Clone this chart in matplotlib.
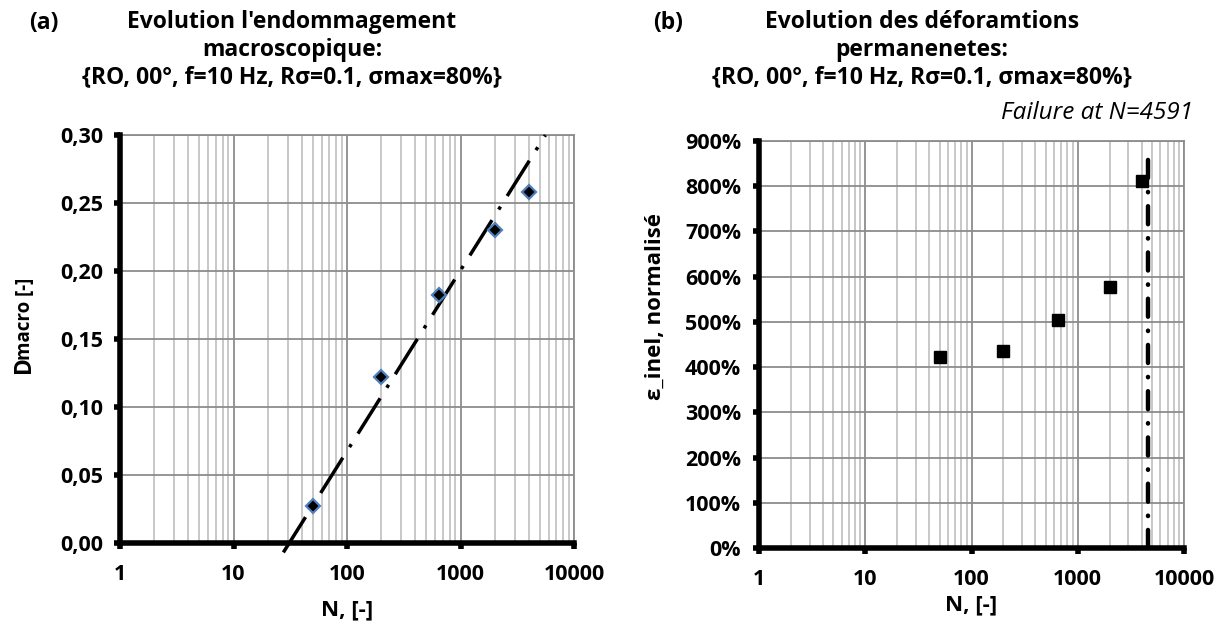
import numpy as np
import matplotlib.pyplot as plt
from matplotlib.ticker import FixedLocator, FuncFormatter, LogLocator, NullFormatter

plt.rcParams['font.family'] = ['Open Sans', 'DejaVu Sans']
plt.rcParams['lines.scale_dashes'] = False

# ---- donnees ----
cycles = [50, 200, 650, 2000, 4000]
d_macro = [0.027, 0.122, 0.182, 0.230, 0.258]

# tendance logarithmique: D = a*log10(N) + b
trend_a = 0.1329
trend_b = -0.1982
trend_N = [27.5, 5600]

eps_inel = [4.22, 4.36, 5.05, 5.78, 8.12]
n_failure = 4591
failure_top = 8.85

x_ticks = [1, 10, 100, 1000, 10000]
d_ticks = [0.00, 0.05, 0.10, 0.15, 0.20, 0.25, 0.30]
eps_ticks = [0, 1, 2, 3, 4, 5, 6, 7, 8, 9]

W, H = 1226, 626
fig = plt.figure(figsize=(W / 100, H / 100), dpi=100)

major_col = '#8c8c8c'
minor_col = '#c4c4c4'
tick_fs = 15.5


def habiller(ax):
    ax.set_xscale('log')
    ax.set_xlim(1, 10000)
    ax.xaxis.set_major_locator(FixedLocator(x_ticks))
    ax.xaxis.set_major_formatter(FuncFormatter(lambda v, p: '%d' % v))
    ax.xaxis.set_minor_locator(LogLocator(base=10, subs=np.arange(2, 10)))
    ax.xaxis.set_minor_formatter(NullFormatter())
    ax.grid(True, which='major', color=major_col, lw=1.3, zorder=0)
    ax.grid(True, which='minor', axis='x', color=minor_col, lw=1.3, zorder=0)
    ax.set_axisbelow(True)
    for s in ['left', 'bottom']:
        ax.spines[s].set_linewidth(4)
        ax.spines[s].set_color('black')
        ax.spines[s].set_zorder(5)
    for s in ['top', 'right']:
        ax.spines[s].set_linewidth(1.3)
        ax.spines[s].set_color(major_col)
    ax.tick_params(which='major', direction='out', length=4, width=4,
                   color='black', labelsize=tick_fs, pad=11)
    ax.tick_params(which='minor', length=0)


def gras(ax):
    for lab in ax.get_xticklabels() + ax.get_yticklabels():
        lab.set_fontweight('bold')


# ---- (a) ----
ax1 = fig.add_axes([120 / W, 1 - 543 / H, 454 / W, 408 / H])
habiller(ax1)
ax1.yaxis.set_major_locator(FixedLocator(d_ticks))
ax1.yaxis.set_major_formatter(FuncFormatter(lambda v, p: ('%.2f' % v).replace('.', ',')))
ax1.tick_params(axis='y', pad=8)

tn = np.array(trend_N)
ax1.plot(tn, trend_a * np.log10(tn) + trend_b, color='black', lw=2.5,
         dashes=(30, 9, 2.5, 9), dash_capstyle='butt', clip_on=False, zorder=3)
ax1.plot(cycles, d_macro, 'D', ms=7, mfc='black', mec='#4f81bd', mew=1.6, zorder=4)
ax1.set_ylim(0, 0.30)
gras(ax1)

ax1.set_xlabel('N, [-]', fontsize=16, fontweight='bold', va='center')
ax1.xaxis.set_label_coords(0.5, -(610 - 543) / 408)

# label "Dmacro [-]" : D en grand, macro plus petit sur la meme ligne de base
t_d = fig.text(30 / W, 1 - 373 / H, 'D', rotation=90, rotation_mode='anchor',
               ha='left', va='baseline', fontsize=16.5, fontweight='bold')
fig.canvas.draw()
h_d = t_d.get_window_extent().height - 4
fig.text(30 / W, 1 - (373 - h_d) / H, 'macro [-]', rotation=90, rotation_mode='anchor',
         ha='left', va='baseline', fontsize=13.5, fontweight='bold')

# ---- (b) ----
ax2 = fig.add_axes([759 / W, 1 - 548 / H, 425 / W, 407 / H])
habiller(ax2)
ax2.yaxis.set_major_locator(FixedLocator(eps_ticks))
ax2.yaxis.set_major_formatter(FuncFormatter(lambda v, p: '%d%%' % round(v * 100)))
ax2.tick_params(axis='y', pad=9)

ax2.plot(cycles, eps_inel, 's', ms=9, color='black', zorder=4)
ax2.plot([n_failure, n_failure], [0, failure_top], color='black', lw=3.2,
         dashes=(13, 10, 0.3, 10), dash_capstyle='round', zorder=3)
ax2.set_ylim(0, 9)
gras(ax2)

ax2.set_xlabel('N, [-]', fontsize=16, fontweight='bold', va='center')
ax2.set_ylabel('ε_inel, normalisé', fontsize=16, fontweight='bold', va='center')
ax2.yaxis.set_label_coords((655 - 759) / 425, (548 - 306) / 407)
ax2.xaxis.set_label_coords(0.5, -(605 - 548) / 407)

# ---- titres ----
fig.text(292 / W, 1 - 50 / H,
         "Evolution l'endommagement\nmacroscopique:\n{RO, 00°, f=10 Hz, Rσ=0.1, σmax=80%}",
         ha='center', va='center', fontsize=16.5, fontweight='bold', linespacing=1.2)
fig.text(922 / W, 1 - 50 / H,
         "Evolution des déforamtions\npermanenetes:\n{RO, 00°, f=10 Hz, Rσ=0.1, σmax=80%}",
         ha='center', va='center', fontsize=16.5, fontweight='bold', linespacing=1.2)
fig.text(44 / W, 1 - 23 / H, '(a)', ha='center', va='center', fontsize=16.5, fontweight='bold')
fig.text(668 / W, 1 - 23 / H, '(b)', ha='center', va='center', fontsize=16.5, fontweight='bold')
fig.text(1193 / W, 1 - 113 / H, 'Failure at N=4591', ha='right', va='center',
         fontsize=17.5, style='italic')

fig.savefig('out.png', dpi=100)
